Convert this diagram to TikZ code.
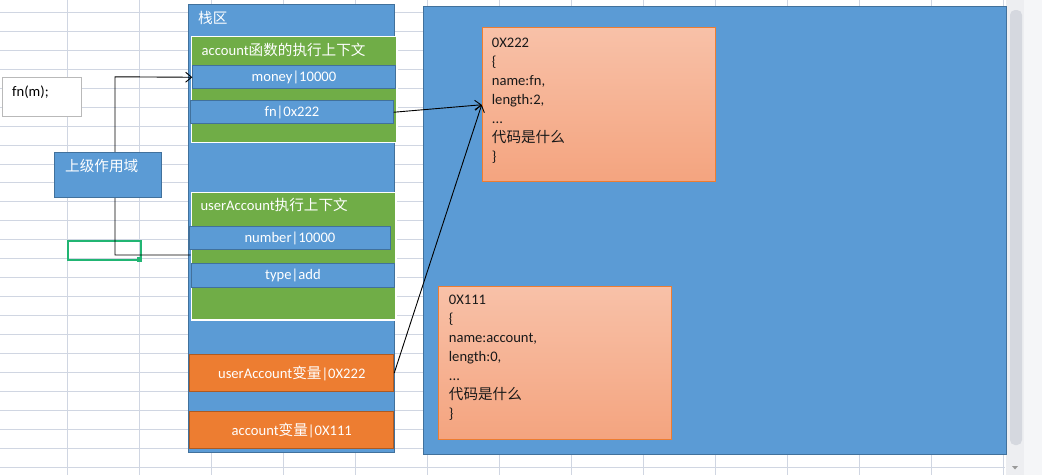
\documentclass[tikz,border=0pt]{standalone}
\usepackage{fontspec}
\setmainfont{Carlito}
\newfontfamily\cjk{Noto Sans CJK SC}
\usetikzlibrary{arrows.meta}
\definecolor{cellblue}{HTML}{5B9BD5}
\definecolor{blueline}{HTML}{41719C}
\definecolor{ctxgreen}{HTML}{70AD47}
\definecolor{varorange}{HTML}{ED7D31}
\definecolor{orangeline}{HTML}{AE5A21}
\definecolor{objtop}{HTML}{F8C1A8}
\definecolor{objbot}{HTML}{F4A47F}
\definecolor{gridgray}{HTML}{D0D6E2}
\definecolor{selgreen}{HTML}{21B573}
\definecolor{trackgray}{HTML}{EDEEF1}
\definecolor{thumbgray}{HTML}{D5D8DF}
\definecolor{panegray}{HTML}{F5F6F8}

\begin{document}
\begin{tikzpicture}[x=1pt, y=-1pt,
    every node/.style={font=\fontsize{14.6}{19}\selectfont, inner sep=0pt},
    gridline/.style={draw=gridgray, line width=0.8pt},
    bluebox/.style={draw=blueline, fill=cellblue, line width=0.9pt, anchor=north west, text=white},
    ctxbox/.style={draw=white, fill=ctxgreen, line width=1.6pt, anchor=north west},
    varbox/.style={draw=orangeline, fill=varorange, line width=0.9pt, anchor=north west, text=white},
    objbox/.style={draw=varorange, top color=objtop, bottom color=objbot, line width=0.9pt, anchor=north west},
    objtext/.style={anchor=north west, align=left, text=black!90},
    boxlbl/.style={anchor=west, text=white},
    link/.style={draw=black, line width=0.9pt, -{Straight Barb[length=6pt,width=10pt]}}
  ]

  \useasboundingbox (0,0) rectangle (1042,475);
  \fill[white] (0,0) rectangle (1042,475);

  % sheet grid
  \foreach \gx in {0,...,13}
    \draw[gridline] ({67.5+72*\gx},0) -- ({67.5+72*\gx},475);
  \foreach \gy in {0,...,24}
    \draw[gridline] (0,{12.3+18.95*\gy}) -- (1005,{12.3+18.95*\gy});

  % scroll bar
  \fill[trackgray] (1006,0) rectangle (1024,475);
  \fill[panegray] (1024,0) rectangle (1042,475);
  \fill[thumbgray, rounded corners=5pt] (1010,10) rectangle (1022,445);
  \fill[gray!80] (1012,466) -- (1018,466) -- (1015,469.5) -- cycle;

  % stack
  \node[bluebox, minimum width=206pt, minimum height=448pt] (stack) at (188.3,4.3) {};
  \node[boxlbl] (stacklbl) at (198,17.5) {\cjk 栈区};

  \node[ctxbox, minimum width=205.3pt, minimum height=106pt] (accctx) at (190.7,35.7) {};
  \node[boxlbl] (accctxlbl) at (201.5,50) {account{\cjk 函数的执行上下文}};
  \node[bluebox, minimum width=202.4pt, minimum height=23pt] (money) at (192.3,65.3) {money|10000};
  \node[bluebox, minimum width=202.4pt, minimum height=23pt] (fnrow) at (190.3,100.3) {fn|0x222};

  \node[ctxbox, minimum width=204.3pt, minimum height=127.6pt] (uactx) at (190.7,191.7) {};
  \node[boxlbl] (uactxlbl) at (200.3,205) {userAccount{\cjk 执行上下文}};
  \node[bluebox, minimum width=201.6pt, minimum height=23pt] (number) at (188.7,226.3) {number|10000};
  \node[bluebox, minimum width=202.4pt, minimum height=23.4pt] (typerow) at (191.3,263.3) {type|add};

  \node[varbox, minimum width=204pt, minimum height=36.7pt] (uavar) at (189.3,354.3) {userAccount{\cjk 变量}|0X222};
  \node[varbox, minimum width=204pt, minimum height=37pt] (accvar) at (189.3,411.3) {account{\cjk 变量}|0X111};

  % heap
  \node[bluebox, minimum width=582.7pt, minimum height=448pt] (heap) at (423.3,6) {};

  \node[objbox, minimum width=233pt, minimum height=154pt] (obj222) at (481.7,27.3) {};
  \node[objtext] (obj222txt) at (491.7,37.5)
    {0X222\\\{\\name:fn,\\length:2,\\...\\{\cjk 代码是什么}\\\}};

  \node[objbox, minimum width=233pt, minimum height=153.3pt] (obj111) at (438.3,285.7) {};
  \node[objtext] (obj111txt) at (448.7,295.3)
    {0X111\\\{\\name:account,\\length:0,\\...\\{\cjk 代码是什么}\\\}};

  % selected cell
  \node[draw=selgreen, line width=2pt, minimum width=73.3pt, minimum height=19pt, anchor=north west] (selcell) at (66.7,240) {};
  \fill[selgreen] (136.7,256.7) rectangle (141.7,261.7);

  % links
  \coordinate (uajoin) at (uactx.west |- 0,255);
  \draw[link] (uajoin) -| (115,76.8) -- (money.west);
  \draw[link] (fnrow.east) -- (obj222.west);
  \draw[link] (uavar.east) -- (obj222.west);

  % left boxes
  \node[bluebox, minimum width=106.4pt, minimum height=44.4pt] (scope) at (54.3,152.3) {};
  \node[boxlbl] (scopelbl) at (65,165.7) {\cjk 上级作用域};
  \node[draw=gray!55, fill=white, line width=0.9pt, minimum width=78.4pt, minimum height=39pt, anchor=north west] (call) at (2.3,77.3) {};
  \node[anchor=west] (calllbl) at (12,92) {fn(m);};

\end{tikzpicture}
\end{document}
